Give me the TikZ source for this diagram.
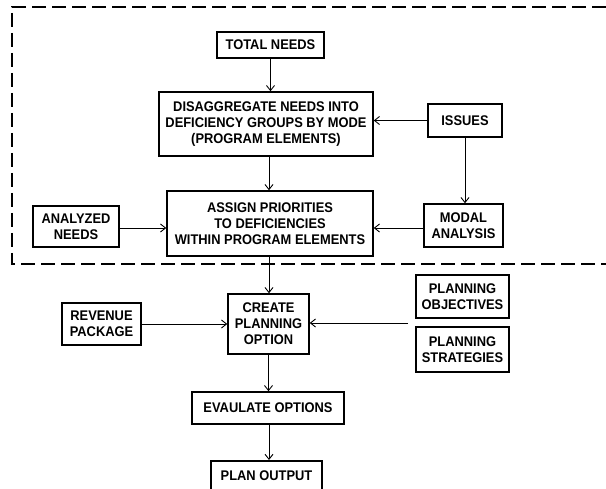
\documentclass[tikz,border=0pt]{standalone}
\usepackage{fontspec}
\setmainfont{Liberation Sans}[FakeStretch=0.92]
\usetikzlibrary{arrows.meta}
\begin{document}
\begin{tikzpicture}[x=1pt,y=-1pt,
  label text/.style={font=\fontsize{14}{16}\selectfont\bfseries},
  box/.style={draw, line width=1.6pt, align=center, inner sep=0pt, label text},
  flow/.style={line width=0.9pt, -{Straight Barb[length=5pt,width=8pt,line width=0.9pt]}},
  region/.style={line width=1.3pt, dash pattern=on 14pt off 6pt}]
  \useasboundingbox (0,0) rectangle (606,489);
  \clip (0,0) rectangle (606,489);

  % dashed region around the needs analysis
  \draw[region] (606,7) -- (12,7) -- (12,264) -- (606,264);

  % process boxes
  \node[box, minimum width=107pt, minimum height=26pt] (total) at (270.5,45) {TOTAL NEEDS};
  \node[box, minimum width=214pt, minimum height=64pt] (disagg) at (266,124)
    {DISAGGREGATE NEEDS INTO\\DEFICIENCY GROUPS BY MODE\\(PROGRAM ELEMENTS)};
  \node[box, minimum width=74pt, minimum height=33pt] (issues) at (465,120.5) {ISSUES};
  \node[box, minimum width=206pt, minimum height=65pt] (assign) at (270,223.5)
    {ASSIGN PRIORITIES\\TO DEFICIENCIES\\WITHIN PROGRAM ELEMENTS};
  \node[box, minimum width=86pt, minimum height=41pt] (analyzed) at (76,226.5) {ANALYZED\\NEEDS};
  \node[box, minimum width=79pt, minimum height=43pt] (modal) at (463.5,225.5) {MODAL\\ANALYSIS};
  \node[box, minimum width=81pt, minimum height=60pt] (create) at (268.5,324) {CREATE\\PLANNING\\OPTION};
  \node[box, minimum width=79pt, minimum height=42pt] (revenue) at (101.5,324) {REVENUE\\PACKAGE};
  \node[box, minimum width=93pt, minimum height=43pt] (pobj) at (462.5,296.5) {PLANNING\\OBJECTIVES};
  \node[box, minimum width=93pt, minimum height=45pt] (pstrat) at (462.5,349.5) {PLANNING\\STRATEGIES};
  \node[box, minimum width=152pt, minimum height=32pt] (eval) at (268,408) {EVAULATE OPTIONS};
  \node[box, minimum width=111pt, minimum height=32pt, anchor=north] (out) at (266.5,460) {};
  \node[label text, anchor=base] (outtext) at (266.5,481) {PLAN OUTPUT};

  \coordinate (plan) at (408,323);

  % connectors
  \draw[flow] (total.south) -- (total.south |- disagg.north);
  \draw[flow] (issues.west) -- (issues.west -| disagg.east);
  \draw[flow] ([xshift=3pt]disagg.south) -- ([xshift=3pt]disagg.south |- assign.north);
  \draw[flow] (issues.south) -- (issues.south |- modal.north);
  \draw[flow] ([yshift=-1.5pt]analyzed.east) -- ([yshift=-1.5pt]analyzed.east -| assign.west);
  \draw[flow] ([yshift=-2.5pt]modal.west) -- ([yshift=-2.5pt]modal.west -| assign.east);
  \draw[flow] ([xshift=-1pt]assign.south) -- ([xshift=-1pt]assign.south |- create.north);
  \draw[flow] (revenue.east) -- (revenue.east -| create.west);
  \draw[flow] (plan) -- (plan -| create.east);
  \draw[flow] (create.south) -- (create.south |- eval.north);
  \draw[flow] ([xshift=1pt]eval.south) -- ([xshift=1pt]eval.south |- out.north);
\end{tikzpicture}
\end{document}
